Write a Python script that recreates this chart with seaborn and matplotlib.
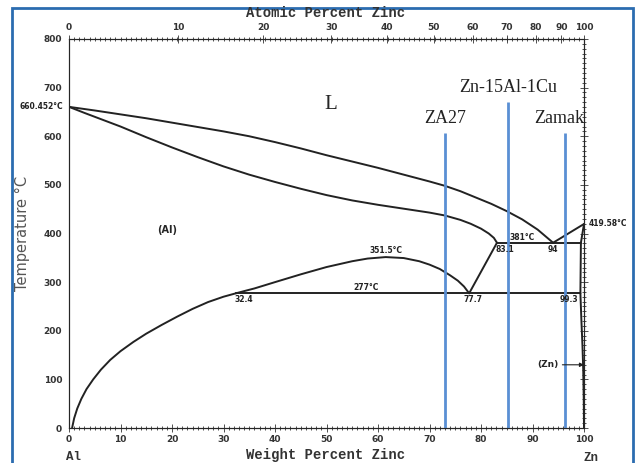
import matplotlib
matplotlib.use('Agg')
from matplotlib import pyplot as plt
from matplotlib.ticker import MultipleLocator
from matplotlib.patches import Rectangle
import seaborn as sns
import numpy as np

# liquidus (Al side -> eutectic)
liq_wt = [0, 5, 10, 15, 20, 25, 30, 35, 40, 45, 50, 55, 60, 65, 70, 73, 76, 79, 82, 85, 88, 91, 94]
liq_T = [660.452, 653, 645, 637, 628, 619, 610, 600, 588, 575, 561, 548, 535, 521, 507, 498, 487, 474, 461, 446, 429, 408, 381]

# solidus of (Al)
sol_wt = [0, 3, 6, 10, 15, 20, 25, 30, 35, 40, 45, 50, 55, 60, 65, 70, 73, 76, 78, 80, 81.5, 82.5, 83.1]
sol_T = [660.452, 648, 636, 620, 598, 577, 557, 538, 521, 506, 492, 479, 468, 459, 451, 443, 437, 428, 420, 410, 400, 391, 381]

# solvus of (Al)
solv_wt = [0.6, 1.0, 1.6, 2.4, 3.4, 4.7, 6.2, 8, 10, 12.5, 15, 18, 21, 24, 27, 30, 32.4]
solv_T = [0, 20, 40, 60, 80, 100, 120, 140, 158, 177, 194, 212, 229, 245, 259, 270, 277]

# miscibility gap
gap_wt = [32.4, 34, 36, 40, 45, 50, 55, 58, 61.5, 65, 68, 70, 72, 74, 75.5, 76.7, 77.7]
gap_T = [277, 281.5, 287, 300, 316, 331, 343, 348.5, 351.5, 349.5, 343, 336, 327, 314, 303, 291, 277]

# straight segments
seg_list = [
    ([32.4, 99.3], [277, 277]),
    ([83.1, 99.4], [381, 381]),
    ([83.1, 77.7], [381, 277]),
    ([94, 100], [381, 419.58]),
    ([100, 99.4], [419.58, 381]),
    ([99.4, 99.3], [381, 277]),
    ([99.3, 99.5, 99.7, 99.85, 99.95, 100], [277, 220, 170, 120, 60, 0]),
]

alloy_names = ['ZA27', 'Zn-15Al-1Cu', 'Zamak']
alloy_wt = [73, 85.3, 96.4]
alloy_top = [607, 671, 607]

at_ticks = [0, 10, 20, 30, 40, 50, 60, 70, 80, 90, 100]


def at_to_wt(a):
    a = np.asarray(a, dtype=float)
    return 100 * a * 65.38 / (a * 65.38 + (100 - a) * 26.98)


sns.set_style('white')
plt.rcParams['font.family'] = ['DejaVu Sans']

fig = plt.figure(figsize=(6.35, 4.63), dpi=100)
ax = fig.add_axes([69 / 635, 35 / 463, 515 / 635, 389 / 463])

lc = '#222222'
for xs, ys in [(liq_wt, liq_T), (sol_wt, sol_T), (solv_wt, solv_T), (gap_wt, gap_T)] + seg_list:
    sns.lineplot(x=xs, y=ys, sort=False, estimator=None, color=lc, lw=1.4, ax=ax)

ax.vlines(alloy_wt, 0, alloy_top, color='#5a8fd4', lw=2, zorder=3)
serif = 'Liberation Serif'
ax.text(alloy_wt[0], alloy_top[0] + 12, alloy_names[0], ha='center', va='bottom', fontsize=13, family=serif, color='#222')
ax.text(alloy_wt[1], alloy_top[1] + 12, alloy_names[1], ha='center', va='bottom', fontsize=13, family=serif, color='#222')
ax.text(alloy_wt[2] - 1.3, alloy_top[2] + 12, alloy_names[2], ha='center', va='bottom', fontsize=13, family=serif, color='#222')
ax.text(50.8, 665, 'L', ha='center', va='center', fontsize=15, family=serif)

small = dict(fontsize=5.5, fontweight='bold', color='#222')
ax.text(19, 407, '(Al)', ha='center', va='center', fontsize=7, fontweight='bold')
ax.text(61.5, 356, '351.5°C', ha='center', va='bottom', **small)
ax.text(57.6, 279, '277°C', ha='center', va='bottom', **small)
ax.text(34, 273, '32.4', ha='center', va='top', **small)
ax.text(78.4, 273, '77.7', ha='center', va='top', **small)
ax.text(97, 273, '99.3', ha='center', va='top', **small)
ax.text(84.6, 377, '83.1', ha='center', va='top', **small)
ax.text(88, 383, '381°C', ha='center', va='bottom', **small)
ax.text(94, 377, '94', ha='center', va='top', **small)
ax.text(101, 420, '419.58°C', ha='left', va='center', clip_on=False, **small)
ax.text(-1.2, 660.452, '660.452°C', ha='right', va='center', clip_on=False, **small)
ax.text(93, 130, '(Zn)', ha='center', va='center', fontsize=6.5, fontweight='bold')
ax.annotate('', xy=(100, 130), xytext=(95.8, 130),
            arrowprops=dict(arrowstyle='-|>', color='#222', lw=0.8, shrinkA=0, shrinkB=0, mutation_scale=6))

ax.set_xlim(0, 100)
ax.set_ylim(0, 800)
ax.xaxis.set_major_locator(MultipleLocator(10))
ax.xaxis.set_minor_locator(MultipleLocator(1))
ax.yaxis.set_major_locator(MultipleLocator(100))
ax.yaxis.set_minor_locator(MultipleLocator(10))
ax.tick_params(which='both', direction='inout', color='#333', width=0.6,
               right=True, labelsize=6.5, pad=2)
ax.tick_params(which='major', length=6)
ax.tick_params(which='minor', length=3)
for lab in ax.get_xticklabels() + ax.get_yticklabels():
    lab.set_fontweight('bold')
    lab.set_color('#333')
for s in ax.spines.values():
    s.set_linewidth(0.8)
    s.set_color('#333')

top = ax.twiny()
top.set_xlim(0, 100)
top.set_xticks(at_to_wt(at_ticks))
top.set_xticklabels([str(a) for a in at_ticks])
top.xaxis.set_minor_locator(MultipleLocator(1))
top.tick_params(which='both', direction='inout', color='#333', width=0.6, labelsize=6.5, pad=2)
top.tick_params(which='major', length=6)
top.tick_params(which='minor', length=3)
for lab in top.get_xticklabels():
    lab.set_fontweight('bold')
    lab.set_color('#333')

mono = 'Liberation Mono'
fig.text(326 / 635, 1 - 455 / 463, 'Weight Percent Zinc', ha='center', va='center',
         fontsize=10, family=mono, fontweight='bold', color='#333')
fig.text(326 / 635, 1 - 13 / 463, 'Atomic Percent Zinc', ha='center', va='center',
         fontsize=10, family=mono, fontweight='bold', color='#333')
fig.text(73 / 635, 1 - 457 / 463, 'Al', ha='center', va='center',
         fontsize=9, family=mono, fontweight='bold', color='#333')
fig.text(591 / 635, 1 - 458 / 463, 'Zn', ha='center', va='center',
         fontsize=9, family=mono, fontweight='bold', color='#333')
fig.text(22 / 635, 1 - 233 / 463, 'Temperature °C', ha='center', va='center', rotation=90,
         fontsize=10.5, color='#555')

fig.patches.append(Rectangle((12 / 635, -0.05), 621 / 635, 1.05 - 8 / 463,
                             transform=fig.transFigure, fill=False,
                             edgecolor='#2b6cb0', lw=2))

fig.savefig('out.png', dpi=100)
